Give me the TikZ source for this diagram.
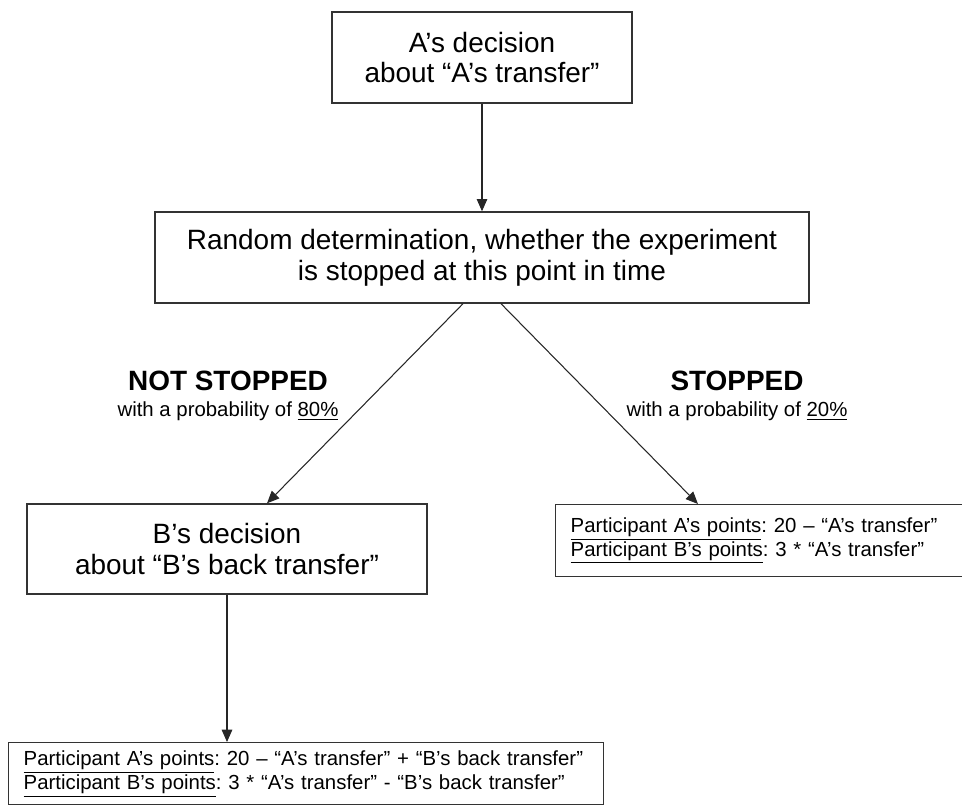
\documentclass[tikz,border=0pt]{standalone}
\usepackage{fontspec}
\setmainfont{Liberation Sans}
\usetikzlibrary{positioning, arrows.meta}
\tikzset{>={Triangle[length=7pt, width=6pt]}}
\frenchspacing

\begin{document}
\begin{tikzpicture}
    [x=0.02cm, y=-0.02cm,
      box/.style={draw=black!80, line width=0.8pt, align=center, inner sep=0pt,
        font=\fontsize{15.9}{17.6}\selectfont},
      res/.style={draw=black!80, line width=0.8pt, align=left, anchor=north west,
        inner xsep=0.3cm, inner ysep=0pt, text width=7.6cm,
        font=\fontsize{11.6}{13.6}\selectfont},
      lbl/.style={inner sep=0pt, font=\fontsize{15.9}{17.6}\selectfont\bfseries},
      sub/.style={inner sep=0pt, font=\fontsize{11.6}{13.6}\selectfont},
      arr/.style={->, draw=black!85, line width=0.6pt}]

    \useasboundingbox (0,0) rectangle (962,807);

    \node[box, minimum width=6cm, minimum height=1.82cm] (adec) at (482,57.5)
      {A’s decision\\about “A’s transfer”};
    \node[box, minimum width=13.08cm, minimum height=1.82cm] (rand) at (482,257.5)
      {Random determination, whether the experiment\\is stopped at this point in time};

    \node[box, minimum width=8cm, minimum height=1.8cm] (bdec) at (227,549)
      {B’s decision\\about “B’s back transfer”};
    \node[res, minimum height=1.44cm] (stopres) at (555,504)
      {\underline{Participant A’s points}: 20 – “A’s transfer”\\
       \underline{Participant B’s points}: 3 * “A’s transfer”};
    \node[res, text width=11.3cm, minimum height=1.24cm] (endres) at (8,742)
      {\underline{Participant A’s points}: 20 – “A’s transfer” + “B’s back transfer”\\
       \underline{Participant B’s points}: 3 * “A’s transfer” - “B’s back transfer”};

    \node[lbl] (notstop) at (228,381) {NOT STOPPED};
    \node[sub, below=0.2cm of notstop] (notstopp) {with a probability of \underline{80\%}};
    \node[lbl] (stop) at (737,381) {STOPPED};
    \node[sub, below=0.2cm of stop] (stopp) {with a probability of \underline{20\%}};

    \draw[arr] (adec) -- (rand);
    \draw[arr] ([xshift=-0.38cm]rand.south) -- ([xshift=0.8cm]bdec.north);
    \draw[arr] ([xshift=0.38cm]rand.south) -- ([xshift=2.86cm]stopres.north west);
    \draw[arr] (bdec) -- (bdec |- endres.north);
\end{tikzpicture}
\end{document}
